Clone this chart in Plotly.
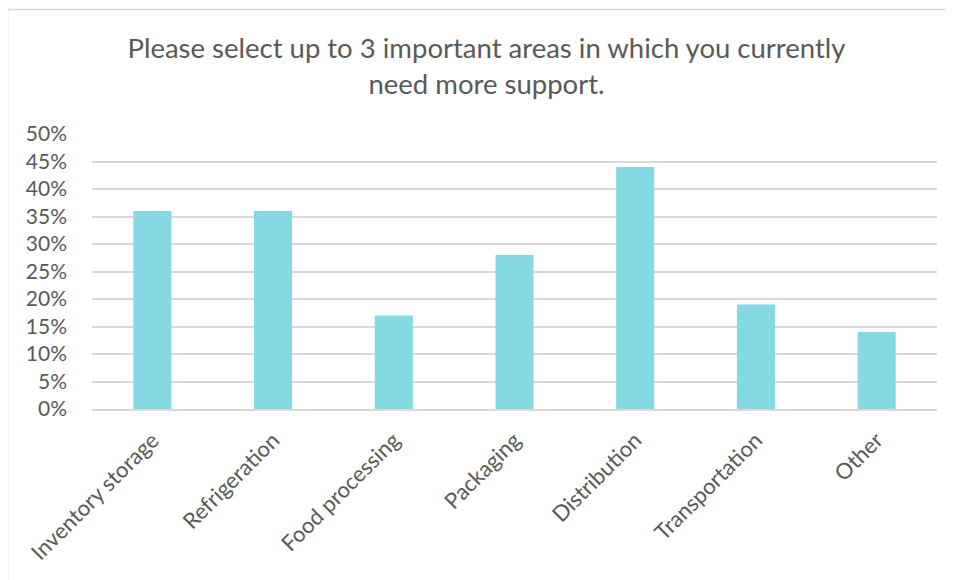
import plotly.graph_objects as go

categories = ["Inventory storage", "Refrigeration", "Food processing", "Packaging",
              "Distribution", "Transportation", "Other"]
values = [0.36, 0.36, 0.17, 0.28, 0.44, 0.19, 0.14]
tick_vals = [0, 0.05, 0.10, 0.15, 0.20, 0.25, 0.30, 0.35, 0.40, 0.45, 0.50]
tick_text = ["0%", "5%", "10%", "15%", "20%", "25%", "30%", "35%", "40%", "45%", "50%"]
title_text = "Please select up to 3 important areas in which you currently<br>need more support."

OFF = 8  # page body margin
W, H = 954 - OFF, 580 - OFF
plot_left, plot_right, plot_top, plot_bottom = 92 - OFF, 937 - OFF, 134 - OFF, 409 - OFF
L, R, T, B = plot_left, W - plot_right, plot_top, H - plot_bottom
pw, ph = W - L - R, H - T - B

fig = go.Figure(go.Bar(x=categories, y=values, marker_color="#84D9E3",
                       marker_line_width=0, hoverinfo="skip"))

FONT = "Lato"
fig.update_layout(
    width=W, height=H,
    margin=dict(l=L, r=R, t=T, b=B, pad=0),
    paper_bgcolor="white", plot_bgcolor="white",
    bargap=0.685,
    showlegend=False,
    font=dict(family=FONT, color="#595959"),
    title=dict(text=title_text, x=(486.5 - OFF) / W, xref="container", xanchor="center",
               y=1 - (58 - OFF) / H, yanchor="middle", yref="container",
               font=dict(family=FONT, size=27.5, color="#595959")),
)
fig.update_xaxes(tickangle=-45, tickfont=dict(size=22, color="#595959"),
                 showgrid=False, showline=True, linecolor="#D9D9D9", linewidth=1.5,
                 ticks="", ticklabelstandoff=8)
fig.update_yaxes(range=[0, 0.5], tickvals=tick_vals, ticktext=tick_text,
                 tickfont=dict(size=21, color="#595959"),
                 showgrid=True, gridcolor="#D9D9D9", gridwidth=1.5,
                 zeroline=False, showline=False, ticks="", ticklabelstandoff=24)

# outer chart border (left/top visible, right/bottom beyond image)
bx0, by0 = 7 - OFF, 9 - OFF
fig.add_shape(type="rect", xref="paper", yref="paper",
              x0=(bx0 + 0.5 - L) / pw, x1=(W + 10 - L) / pw,
              y0=-(B + 10) / ph, y1=(plot_bottom - by0 - 0.5) / ph,
              line=dict(color="#D9D9D9", width=1.5), fillcolor="rgba(0,0,0,0)", layer="below")

fig.write_html("out.html")
